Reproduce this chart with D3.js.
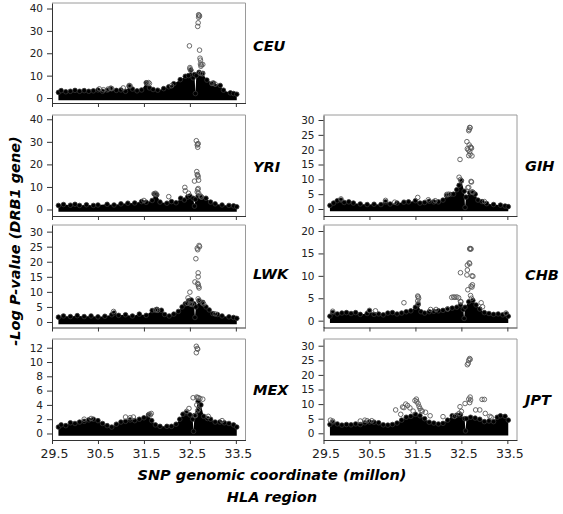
<!DOCTYPE html>
<html>
<head>
<meta charset="utf-8">
<script src="https://cdn.jsdelivr.net/npm/d3@7"></script>
<style>
  html, body { margin: 0; padding: 0; background: #fff; }
  svg { display: block; }
</style>
</head>
<body>
<svg id="chart" width="563" height="514"></svg>
<script>
// ---------------- DATA ----------------
const populations = ["CEU", "YRI", "LWK", "MEX", "GIH", "CHB", "JPT"];
const xTickValues = [29.5, 30.5, 31.5, 32.5, 33.5];
const xTickLabels = ["29.5", "30.5", "31.5", "32.5", "33.5"];
const yTicksCEU = [0, 10, 20, 30, 40];
const yTicksYRI = [0, 10, 20, 30, 40];
const yTicksLWK = [0, 5, 10, 15, 20, 25, 30];
const yTicksMEX = [0, 2, 4, 6, 8, 10, 12];
const yTicksGIH = [0, 5, 10, 15, 20, 25, 30];
const yTicksCHB = [0, 5, 10, 15, 20];
const yTicksJPT = [0, 5, 10, 15, 20, 25, 30];

// Upper envelope of the dense SNP cloud: [coordinate (Mb), -log P]
const envelopeCEU = [[29.64,2.5],[29.7,3.3],[29.8,2.8],[29.9,3.0],[30.0,3.4],[30.1,3.0],[30.2,3.3],[30.3,3.0],[30.4,3.2],[30.5,3.6],[30.6,3.0],[30.7,3.5],[30.78,4.2],[30.9,3.4],[31.0,3.6],[31.1,3.0],[31.18,5.3],[31.25,4.0],[31.35,3.2],[31.45,3.6],[31.55,6.8],[31.62,4.5],[31.7,3.8],[31.8,3.5],[31.93,4.2],[32.04,5.0],[32.15,6.4],[32.29,8.2],[32.4,9.7],[32.47,10.0],[32.52,12.5],[32.57,9.0],[32.6,10.5],[32.62,2.0],[32.64,10.0],[32.7,11.5],[32.78,11.0],[32.87,8.0],[33.01,6.7],[33.16,5.6],[33.23,3.5],[33.38,2.3],[33.45,2.0],[33.52,1.7]];
const envelopeYRI = [[29.64,1.8],[29.75,2.2],[29.9,1.9],[30.0,2.3],[30.1,1.8],[30.25,2.1],[30.4,1.8],[30.5,2.0],[30.7,2.3],[30.85,2.0],[31.0,2.5],[31.15,2.8],[31.3,2.9],[31.45,3.5],[31.55,3.2],[31.68,4.0],[31.73,6.8],[31.78,6.5],[31.85,3.3],[32.0,2.8],[32.1,3.5],[32.2,3.0],[32.3,5.0],[32.38,4.2],[32.45,5.5],[32.5,6.0],[32.57,5.0],[32.6,1.5],[32.62,4.5],[32.68,6.0],[32.75,5.5],[32.85,5.0],[32.95,3.3],[33.05,2.5],[33.2,2.0],[33.35,1.8],[33.45,1.6],[33.52,1.2]];
const envelopeLWK = [[29.64,1.6],[29.75,2.0],[29.9,1.8],[30.05,2.1],[30.2,1.8],[30.35,2.0],[30.5,1.7],[30.65,1.9],[30.8,2.4],[30.85,3.0],[30.95,2.2],[31.1,2.4],[31.25,2.0],[31.4,2.6],[31.55,2.2],[31.68,3.8],[31.78,4.2],[31.88,3.9],[31.95,2.5],[32.05,2.0],[32.15,2.6],[32.25,3.5],[32.33,5.0],[32.4,6.0],[32.47,7.0],[32.53,7.3],[32.59,6.0],[32.61,1.5],[32.63,5.0],[32.7,7.0],[32.78,6.5],[32.85,5.0],[32.92,4.0],[33.0,2.8],[33.1,2.5],[33.2,2.0],[33.35,1.7],[33.45,1.5],[33.52,1.2]];
const envelopeMEX = [[29.64,0.9],[29.7,1.2],[29.8,1.1],[29.9,1.5],[30.0,1.4],[30.1,1.6],[30.2,1.7],[30.3,1.9],[30.4,2.0],[30.5,1.8],[30.6,1.4],[30.7,1.1],[30.8,0.9],[30.9,1.3],[31.0,1.6],[31.1,1.7],[31.2,1.9],[31.3,1.8],[31.4,2.0],[31.5,2.2],[31.6,2.6],[31.67,1.8],[31.75,1.2],[31.85,1.0],[32.0,1.0],[32.1,1.0],[32.2,1.3],[32.28,2.0],[32.35,2.7],[32.42,2.9],[32.5,2.6],[32.56,2.0],[32.58,0.3],[32.6,2.5],[32.68,4.5],[32.74,4.0],[32.8,2.4],[32.88,2.1],[32.95,2.0],[33.05,1.6],[33.15,1.6],[33.25,1.5],[33.35,1.4],[33.45,1.2],[33.52,0.9]];
const envelopeGIH = [[29.64,1.2],[29.72,2.0],[29.8,2.8],[29.88,3.0],[29.95,2.2],[30.05,2.4],[30.15,2.0],[30.3,1.7],[30.45,1.5],[30.6,1.6],[30.75,1.5],[30.85,2.4],[30.95,1.7],[31.1,2.0],[31.25,2.3],[31.35,2.4],[31.5,2.8],[31.6,2.0],[31.7,2.2],[31.8,2.6],[31.9,2.4],[32.0,2.4],[32.1,3.0],[32.18,4.5],[32.26,4.9],[32.33,5.0],[32.4,6.5],[32.45,8.0],[32.5,9.5],[32.56,6.0],[32.58,0.5],[32.6,4.0],[32.68,5.5],[32.75,5.6],[32.8,5.0],[32.86,3.0],[32.95,2.5],[33.05,1.8],[33.2,1.5],[33.35,1.3],[33.45,1.0],[33.52,0.8]];
const envelopeCHB = [[29.64,1.0],[29.7,1.8],[29.8,1.5],[29.9,1.7],[30.0,1.8],[30.1,1.6],[30.2,1.8],[30.3,1.4],[30.45,1.6],[30.5,2.2],[30.6,1.4],[30.7,1.5],[30.8,1.3],[30.9,1.7],[31.0,1.8],[31.1,1.5],[31.2,1.7],[31.3,2.0],[31.4,2.2],[31.5,3.0],[31.56,3.6],[31.62,2.0],[31.7,1.7],[31.8,2.0],[31.9,2.1],[32.0,2.2],[32.1,2.3],[32.2,2.6],[32.3,2.8],[32.4,3.0],[32.48,3.5],[32.54,2.5],[32.56,0.5],[32.58,3.0],[32.66,4.2],[32.75,4.5],[32.82,3.5],[32.9,2.6],[33.0,1.8],[33.1,1.6],[33.2,1.4],[33.3,1.5],[33.4,1.3],[33.48,1.5],[33.52,1.0]];
const envelopeJPT = [[29.64,3.0],[29.7,3.8],[29.8,3.2],[29.9,2.8],[30.0,3.0],[30.1,2.9],[30.2,3.2],[30.3,3.0],[30.4,3.6],[30.5,3.9],[30.6,3.8],[30.7,3.6],[30.8,2.9],[30.9,2.8],[31.0,3.0],[31.1,3.5],[31.2,4.5],[31.3,5.5],[31.4,5.8],[31.5,6.5],[31.6,6.0],[31.7,5.0],[31.8,3.8],[31.9,3.5],[32.0,3.2],[32.1,3.4],[32.2,4.5],[32.3,6.0],[32.4,6.2],[32.48,6.3],[32.57,5.0],[32.59,0.8],[32.61,5.0],[32.7,5.5],[32.8,5.2],[32.9,4.8],[33.0,4.0],[33.1,4.2],[33.2,4.0],[33.28,5.5],[33.35,6.0],[33.45,5.8],[33.52,4.5]];

// Individual SNPs standing out of the cloud: [coordinate (Mb), -log P]
const pointsCEU = [[30.53,4.1],[30.62,3.7],[30.72,4.0],[30.78,4.4],[30.8,4.2],[31.05,4.5],[31.18,5.6],[31.2,5.4],[31.57,6.7],[31.6,6.9],[31.62,6.5],[32.1,5.5],[32.98,6.5],[33.05,6.2],[32.69,37.2],[32.70,37.0],[32.71,36.6],[32.69,36.1],[32.68,33.6],[32.67,32.0],[32.49,23.3],[32.71,21.4],[32.72,17.8],[32.73,16.9],[32.73,15.2],[32.75,14.8],[32.78,15.0],[32.74,14.2],[32.5,13.6],[32.5,13.0],[32.52,12.4],[32.73,11.0],[32.77,10.8]];
const pointsYRI = [[31.5,4.0],[32.04,5.7],[32.39,9.8],[32.4,8.3],[32.47,7.2],[32.64,30.5],[32.67,29.0],[32.68,29.2],[32.66,28.6],[32.67,27.6],[32.65,16.8],[32.66,15.5],[32.67,15.2],[32.68,14.5],[32.69,13.0],[32.60,12.6],[32.68,9.3],[32.67,8.8],[32.66,7.8],[32.69,7.2],[31.72,7.0],[31.75,7.2],[31.77,6.8],[32.75,5.5],[32.73,6.0]];
const pointsLWK = [[30.84,3.5],[32.5,9.9],[32.46,8.0],[32.44,6.2],[32.70,25.4],[32.71,25.0],[32.66,24.5],[32.67,24.0],[32.63,21.0],[32.68,16.3],[32.68,15.0],[32.61,13.3],[32.67,12.8],[32.68,12.4],[32.69,11.8],[32.7,11.3],[32.68,7.7],[32.70,7.2],[32.77,6.3],[32.8,6.0],[32.55,5.8],[32.51,6.0],[31.75,4.0],[31.8,3.9],[33.05,2.7]];
const pointsMEX = [[32.64,12.2],[32.66,11.9],[32.67,11.8],[32.64,11.3],[32.57,5.0],[32.65,5.1],[32.67,5.0],[32.69,5.0],[32.72,4.9],[32.78,4.8],[32.65,4.0],[32.69,3.4],[32.67,3.2],[32.43,3.1],[32.48,3.5],[31.1,2.3],[31.2,2.2],[31.27,2.3],[31.62,2.7],[31.64,2.6],[31.66,2.8],[32.62,2.5],[32.9,2.4],[33.2,1.8],[30.2,2.0],[30.35,2.1]];
const pointsGIH = [[29.88,3.4],[30.85,2.9],[31.05,2.3],[31.55,3.9],[31.78,3.1],[31.93,2.8],[32.18,4.9],[32.22,5.0],[32.47,16.7],[32.45,10.7],[32.48,9.9],[32.5,9.5],[32.62,22.7],[32.65,19.9],[32.63,20.3],[32.66,18.0],[32.68,27.5],[32.69,27.4],[32.67,26.8],[32.66,26.4],[32.67,21.6],[32.70,20.9],[32.71,20.7],[32.72,20.5],[32.68,19.4],[32.69,18.5],[32.73,17.9],[32.64,7.2],[32.66,7.3],[32.71,9.3],[32.72,9.1],[32.73,5.8],[32.75,5.6],[33.0,2.5]];
const pointsCHB = [[29.7,2.1],[30.5,2.3],[30.63,2.2],[31.25,4.0],[31.55,5.5],[31.56,5.3],[31.57,5.0],[31.55,4.4],[31.56,3.8],[31.83,2.5],[31.95,2.5],[32.2,2.6],[32.29,5.2],[32.33,5.3],[32.36,5.2],[32.4,5.3],[32.44,5.1],[32.48,4.3],[32.49,4.2],[32.48,10.7],[32.62,10.2],[32.63,11.3],[32.63,12.4],[32.67,12.9],[32.68,12.7],[32.68,16.0],[32.69,16.1],[32.70,16.0],[32.71,16.0],[32.75,9.9],[32.73,10.0],[32.71,7.7],[32.73,7.5],[32.74,8.0],[32.64,6.9],[32.7,5.6],[32.72,5.0],[32.93,4.0],[32.96,3.1],[33.47,1.7]];
const pointsJPT = [[29.65,4.5],[29.7,4.2],[30.3,4.2],[30.4,4.5],[30.45,4.3],[30.55,4.3],[31.07,8.0],[31.18,6.5],[31.22,9.0],[31.25,8.8],[31.29,10.0],[31.33,9.5],[31.38,8.7],[31.45,7.6],[31.49,11.2],[31.52,11.7],[31.53,10.8],[31.56,10.1],[31.58,9.2],[31.6,8.5],[31.62,7.8],[31.65,7.6],[31.72,7.2],[31.82,6.0],[32.1,5.7],[32.35,5.8],[32.45,6.8],[32.47,9.1],[32.5,7.5],[32.58,10.2],[32.63,23.5],[32.65,24.0],[32.66,25.0],[32.68,25.6],[32.69,25.3],[32.66,11.7],[32.69,12.4],[32.70,11.4],[32.68,10.5],[32.81,8.0],[32.9,8.0],[32.95,11.6],[33.0,11.6],[33.02,6.8],[33.12,5.8],[33.15,5.5]];

const xTitle = "SNP genomic coordinate (millon)";
const xSubtitle = "HLA region";
const yTitle = "-Log P-value (DRB1 gene)";

// ---------------- LAYOUT (positions / styles) ----------------
const columns = { left: [52, 245.5], right: [323.5, 517] };
const xDomain = [29.5, 33.71];
const panels = [
  { name: "CEU", col: "left",  top: 3,   bottom: 103,   yDom: [-2.23, 42.46], ticks: yTicksCEU, env: envelopeCEU, pts: pointsCEU, labelY: 46 },
  { name: "YRI", col: "left",  top: 115, bottom: 216,   yDom: [-2.88, 41.9],  ticks: yTicksYRI, env: envelopeYRI, pts: pointsYRI, labelY: 167 },
  { name: "LWK", col: "left",  top: 225, bottom: 327.5, yDom: [-1.83, 32.2],  ticks: yTicksLWK, env: envelopeLWK, pts: pointsLWK, labelY: 274 },
  { name: "MEX", col: "left",  top: 339, bottom: 440,   yDom: [-0.91, 13.22], ticks: yTicksMEX, env: envelopeMEX, pts: pointsMEX, labelY: 390, bottomRow: true },
  { name: "GIH", col: "right", top: 115, bottom: 216,   yDom: [-2.36, 31.69], ticks: yTicksGIH, env: envelopeGIH, pts: pointsGIH, labelY: 166 },
  { name: "CHB", col: "right", top: 225, bottom: 327.5, yDom: [-1.52, 21.34], ticks: yTicksCHB, env: envelopeCHB, pts: pointsCHB, labelY: 275 },
  { name: "JPT", col: "right", top: 339, bottom: 440,   yDom: [-2.3, 32.3],   ticks: yTicksJPT, env: envelopeJPT, pts: pointsJPT, labelY: 400, bottomRow: true }
];
const FONT = "'DejaVu Sans', sans-serif";
const R = 2.3;

const svg = d3.select("#chart");

panels.forEach(p => {
  const [x0, x1] = columns[p.col];
  const x = d3.scaleLinear().domain(xDomain).range([x0, x1]);
  const y = d3.scaleLinear().domain(p.yDom).range([p.bottom, p.top]);
  const g = svg.append("g");

  // dense cloud
  const area = d3.area()
    .x(d => x(d[0]))
    .y0(y(0) + R)
    .y1(d => y(d[1]));
  g.append("path").datum(p.env).attr("d", area).attr("fill", "#000");
  g.selectAll("circle.env").data(p.env).join("circle")
    .attr("class", "env")
    .attr("cx", d => x(d[0])).attr("cy", d => y(d[1]))
    .attr("r", R).attr("fill", "#000").attr("stroke", "#333").attr("stroke-width", 0.8);

  // standout SNPs
  g.selectAll("circle.pt").data(p.pts).join("circle")
    .attr("class", "pt")
    .attr("cx", d => x(d[0])).attr("cy", d => y(d[1]))
    .attr("r", R).attr("fill", "none").attr("stroke", "#5a5a5a").attr("stroke-width", 0.9);

  // frame (top, right)
  g.append("path")
    .attr("d", `M${x0},${p.top}H${x1}V${p.bottom}`)
    .attr("fill", "none").attr("stroke", "#9a9a9a").attr("stroke-width", 1);

  // y axis
  const ya = g.append("g").attr("transform", `translate(${x0},0)`)
    .call(d3.axisLeft(y).tickValues(p.ticks).tickSize(5).tickSizeOuter(0).tickPadding(4));
  ya.select(".domain").attr("stroke", "#333");
  ya.selectAll(".tick line").attr("stroke", "#333");
  ya.selectAll("text").attr("font-family", FONT).attr("font-size", 10.5).attr("fill", "#222");

  // x axis
  const xa = g.append("g").attr("transform", `translate(0,${p.bottom})`)
    .call(d3.axisBottom(x).tickValues(xTickValues).tickSize(4).tickSizeOuter(0).tickPadding(5)
      .tickFormat((d, i) => p.bottomRow ? xTickLabels[i] : ""));
  xa.select(".domain").attr("stroke", "#333");
  xa.selectAll(".tick line").attr("stroke", "#333");
  xa.selectAll("text").attr("font-family", FONT).attr("font-size", 12.5).attr("fill", "#222").attr("dx", 2);

  // population label
  g.append("text")
    .attr("x", p.col === "left" ? 253 : 525)
    .attr("y", p.labelY)
    .attr("dy", "0.36em")
    .attr("font-family", FONT).attr("font-weight", "bold").attr("font-style", "italic")
    .attr("font-size", 14.5).attr("fill", "#000")
    .text(p.name);
});

// axis titles
svg.append("text")
  .attr("x", 272).attr("y", 480)
  .attr("text-anchor", "middle")
  .attr("font-family", FONT).attr("font-weight", "bold").attr("font-style", "italic")
  .attr("font-size", 14.5).attr("fill", "#000")
  .text(xTitle);
svg.append("text")
  .attr("x", 272).attr("y", 502)
  .attr("text-anchor", "middle")
  .attr("font-family", FONT).attr("font-weight", "bold").attr("font-style", "italic")
  .attr("font-size", 14.5).attr("fill", "#000")
  .text(xSubtitle);
svg.append("text")
  .attr("transform", "translate(15,241) rotate(-90)")
  .attr("text-anchor", "middle")
  .attr("dy", "0.36em")
  .attr("font-family", FONT).attr("font-weight", "bold").attr("font-style", "italic")
  .attr("font-size", 14.5).attr("fill", "#000")
  .text(yTitle);
</script>
</body>
</html>
